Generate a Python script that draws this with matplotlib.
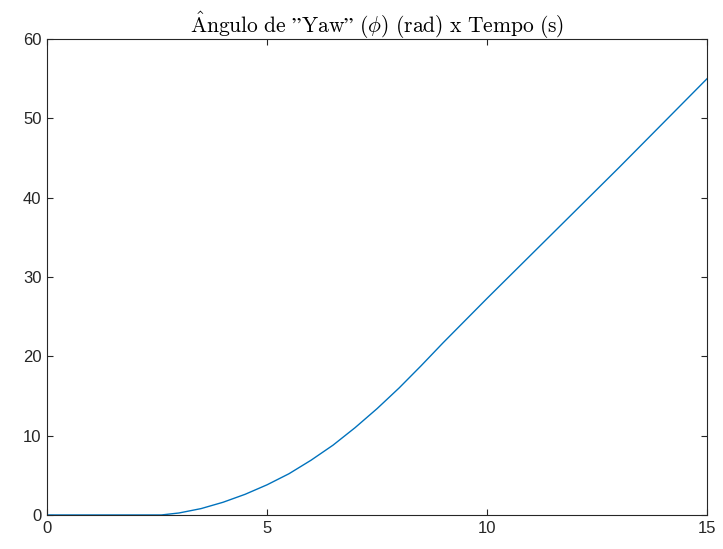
import matplotlib.pyplot as plt

plt.rcParams['mathtext.fontset'] = 'cm'

# tempo (s) e angulo de yaw (rad)
tempo = [0, 1, 2, 2.6, 3, 3.5, 4, 4.5, 5, 5.5, 6, 6.5, 7, 7.5, 8, 8.5, 9,
         10, 11, 12, 13, 14, 15]
yaw = [0, 0, 0, 0, 0.25, 0.8, 1.6, 2.6, 3.8, 5.2, 6.9, 8.8, 11.0, 13.4, 16.0,
       18.8, 21.7, 27.3, 32.8, 38.3, 43.8, 49.4, 55.0]

xticks = [0, 5, 10, 15]
yticks = [0, 10, 20, 30, 40, 50, 60]

fig = plt.figure(figsize=(7.23, 5.49), dpi=100)
ax = fig.add_axes([0.065, 0.062, 0.913, 0.867])
ax.plot(tempo, yaw, color='#0072BD', lw=1.0)
ax.set_xlim(0, 15)
ax.set_ylim(0, 60)
ax.set_xticks(xticks)
ax.set_yticks(yticks)
ax.tick_params(direction='in', length=4.5, width=0.8, colors='#262626',
               labelsize=12, top=True, right=True, pad=4)
for lbl in ax.get_xticklabels() + ax.get_yticklabels():
    lbl.set_family('Liberation Sans')
for s in ax.spines.values():
    s.set_color('#262626')
    s.set_linewidth(0.8)
ax.set_title(r'$\mathrm{\hat{A}ngulo\ de\ ”Yaw”\ (\phi)\ (rad)\ x\ Tempo\ (s)}$',
             fontsize=15.5, pad=4)

fig.savefig('out.png', dpi=100)
